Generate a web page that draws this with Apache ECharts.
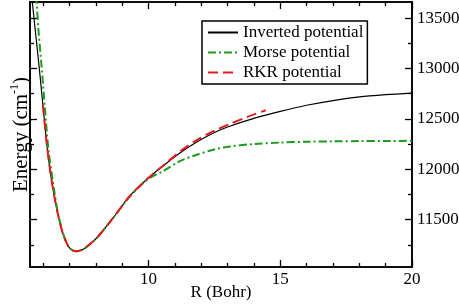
<!DOCTYPE html>
<html><head><meta charset="utf-8">
<script src="https://cdn.jsdelivr.net/npm/echarts@6/dist/echarts.min.js"></script>
<style>html,body{margin:0;padding:0;background:#fff}#c{width:459px;height:306px}</style>
</head><body><div id="c"></div>
<script>
const seriesNames = ['Inverted potential', 'Morse potential', 'RKR potential'];

const invertedR = [5.55, 5.59, 5.73, 5.85, 6.00, 6.13, 6.26, 6.39, 6.57, 6.76, 6.95, 7.10, 7.27, 7.44, 7.59, 8.03, 8.66, 9.30, 9.99, 10.56, 11.19, 11.83, 12.46, 13.00, 14.00, 15.00, 16.00, 17.00, 18.00, 19.00, 20.00];
const invertedE = [13750, 13652, 13305, 13007, 12611, 12264, 11996, 11778, 11540, 11351, 11237, 11197, 11186, 11197, 11219, 11318, 11520, 11738, 11913, 12035, 12161, 12270, 12360, 12420, 12505, 12574, 12635, 12682, 12718, 12740, 12756];

const morseR = [5.72, 5.75, 5.82, 5.94, 6.07, 6.20, 6.32, 6.43, 6.57, 6.76, 6.95, 7.10, 7.27, 7.44, 7.59, 8.03, 8.66, 9.30, 9.99, 10.56, 11.19, 11.83, 12.46, 13.09, 14.00, 15.00, 16.00, 17.00, 18.00, 19.00, 20.00];
const morseE = [13720, 13662, 13384, 13020, 12591, 12194, 11966, 11768, 11555, 11360, 11240, 11198, 11186, 11196, 11217, 11316, 11518, 11732, 11905, 11982, 12080, 12144, 12194, 12227, 12250, 12265, 12273, 12277, 12280, 12281, 12282];

const rkrR = [5.99, 6.13, 6.26, 6.39, 6.57, 6.76, 6.95, 7.10, 7.27, 7.44, 7.59, 8.03, 8.66, 9.30, 9.99, 10.56, 11.19, 11.83, 12.46, 13.09, 13.75, 14.45];
const rkrE = [12640, 12264, 11996, 11778, 11540, 11351, 11237, 11197, 11186, 11197, 11219, 11318, 11520, 11738, 11913, 12038, 12175, 12290, 12378, 12450, 12520, 12585];

const xMajorTicks = [10, 15, 20];
const xMinorTicks = [6, 7, 8, 9, 11, 12, 13, 14, 16, 17, 18, 19];
const yMajorTicks = [11500, 12000, 12500, 13000, 13500];
const yMinorTicks = [11250, 11750, 12250, 12750, 13250];

const X_MIN = 5.5, X_MAX = 20, Y_MIN = 11030, Y_MAX = 13660;
const FONT = "Liberation Serif";

function zip(a, b) { return a.map((v, i) => [v, b[i]]); }
const plain = v => String(v);

function xAx(pos, ticks, len, labels, extra) {
  return Object.assign({
    type: 'value', position: pos, min: X_MIN, max: X_MAX,
    axisLine: { show: true, onZero: false, lineStyle: { color: '#000', width: 1.6 } },
    axisTick: { show: true, inside: true, length: len, customValues: ticks, lineStyle: { color: '#000', width: 1.3 } },
    axisLabel: labels ? { show: true, customValues: labels, formatter: plain, margin: 4, color: '#000', fontSize: 17, fontFamily: FONT } : { show: false },
    splitLine: { show: false }
  }, extra || {});
}
function yAx(pos, ticks, len, labels, extra) {
  return Object.assign({
    type: 'value', position: pos, min: Y_MIN, max: Y_MAX,
    axisLine: { show: true, onZero: false, lineStyle: { color: '#000', width: 1.6 } },
    axisTick: { show: true, inside: true, length: len, customValues: ticks, lineStyle: { color: '#000', width: 1.3 } },
    axisLabel: labels ? { show: true, customValues: labels, formatter: plain, margin: 5, color: '#000', fontSize: 17, fontFamily: FONT, align: 'left' } : { show: false },
    splitLine: { show: false }
  }, extra || {});
}

const chart = echarts.init(document.getElementById('c'), null, { renderer: 'canvas' });
chart.setOption({
  animation: false,
  backgroundColor: '#fff',
  grid: { left: 30, right: 47, top: 2, bottom: 39, outerBoundsMode: 'none', containLabel: false },
  legend: {
    orient: 'vertical', left: 202, top: 21,
    data: seriesNames,
    itemWidth: 30, itemHeight: 14, itemGap: 3,
    padding: [3, 4, 3, 5],
    borderColor: '#000', borderWidth: 1.5,
    itemStyle: { opacity: 0 },
    textStyle: { fontFamily: FONT, fontSize: 17, lineHeight: 16, color: '#000' }
  },
  xAxis: [
    xAx('bottom', xMajorTicks, 7, xMajorTicks, {
      name: 'R (Bohr)', nameLocation: 'middle', nameGap: 26, nameMoveOverlap: false,
      nameTextStyle: { fontFamily: FONT, fontSize: 17, color: '#000', verticalAlign: 'middle' }
    }),
    xAx('bottom', xMinorTicks, 4, null),
    xAx('top', xMajorTicks, 7, null),
    xAx('top', xMinorTicks, 4, null)
  ],
  yAxis: [
    yAx('left', yMajorTicks, 7, null, {
      name: '{a|Energy (cm}{s|-1}{a|)}', nameLocation: 'middle', nameGap: -3, nameRotate: 90, nameMoveOverlap: false,
      nameTextStyle: {
        rich: {
          a: { fontFamily: FONT, fontSize: 21, color: '#000' },
          s: { fontFamily: FONT, fontSize: 12, color: '#000', verticalAlign: 'top', padding: [0, 0, 12, 0] }
        }
      }
    }),
    yAx('left', yMinorTicks, 4, null),
    yAx('right', yMajorTicks, 7, yMajorTicks),
    yAx('right', yMinorTicks, 4, null)
  ],
  series: [
    { name: seriesNames[0], type: 'line', xAxisIndex: 0, yAxisIndex: 0, data: zip(invertedR, invertedE),
      showSymbol: false, symbol: 'none', smooth: 0.3, lineStyle: { color: '#000', width: 1.2, type: 'solid' }, itemStyle: { color: '#000' } },
    { name: seriesNames[1], type: 'line', xAxisIndex: 0, yAxisIndex: 0, data: zip(morseR, morseE),
      showSymbol: false, symbol: 'none', smooth: 0.3, lineStyle: { color: '#1e9a1e', width: 2, type: [8, 3, 2, 3] }, itemStyle: { color: '#1e9a1e' } },
    { name: seriesNames[2], type: 'line', xAxisIndex: 0, yAxisIndex: 0, data: zip(rkrR, rkrE),
      showSymbol: false, symbol: 'none', smooth: 0.3, lineStyle: { color: '#e31a1c', width: 2, type: [10, 5] }, itemStyle: { color: '#e31a1c' } }
  ]
});
</script></body></html>
